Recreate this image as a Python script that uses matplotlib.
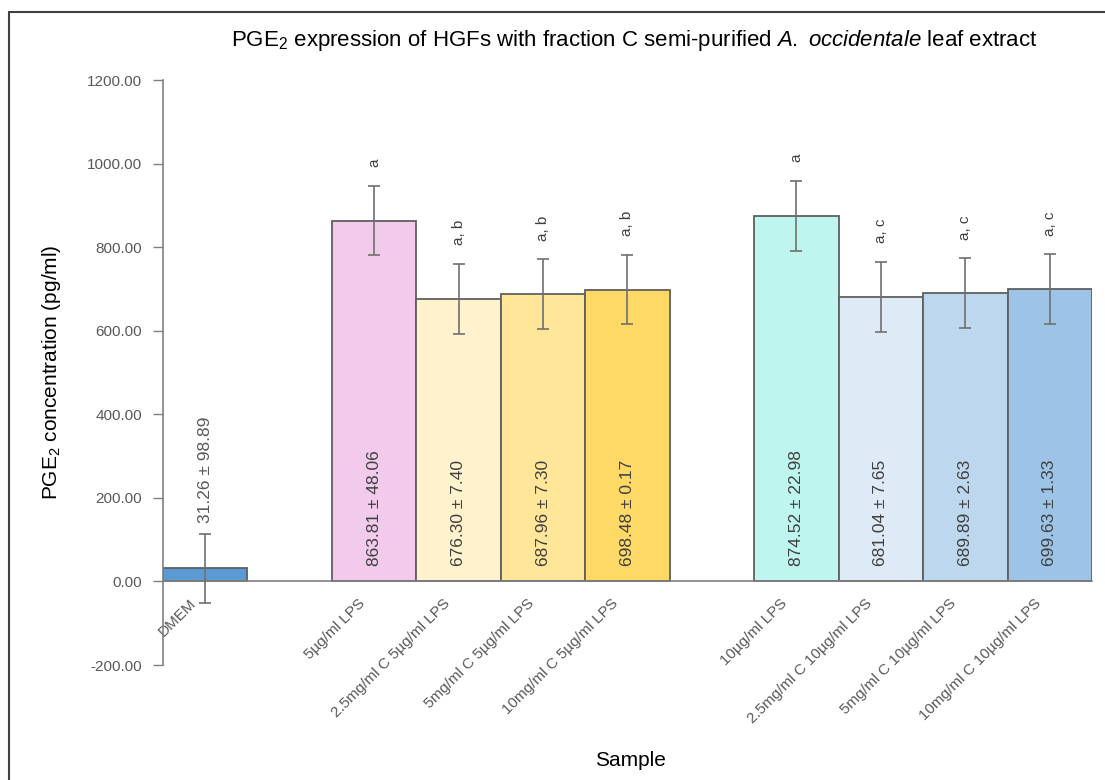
import numpy as np
import matplotlib
matplotlib.use("Agg")
import matplotlib.pyplot as plt
import matplotlib.transforms as mtransforms
from matplotlib.patches import Rectangle

# We keep the chart data here
samples = ["DMEM", "5µg/ml LPS", "2.5mg/ml C 5µg/ml LPS", "5mg/ml C 5µg/ml LPS",
           "10mg/ml C 5µg/ml LPS", "10µg/ml LPS", "2.5mg/ml C 10µg/ml LPS",
           "5mg/ml C 10µg/ml LPS", "10mg/ml C 10µg/ml LPS"]
means = [31.26, 863.81, 676.30, 687.96, 698.48, 874.52, 681.04, 689.89, 699.63]
sds = [98.89, 48.06, 7.40, 7.30, 0.17, 22.98, 7.65, 2.63, 1.33]
err_bars = [83, 83, 83, 83, 83, 84, 83, 83, 83]
letters = ["", "a", "a, b", "a, b", "a, b", "a", "a, c", "a, c", "a, c"]
colors = ["#5B9BD5", "#F2CAEC", "#FFF2CC", "#FFE699", "#FFD966",
          "#BFF5EF", "#DEEAF6", "#BDD7EE", "#9DC3E6"]

plt.rcParams["font.family"] = ["Liberation Sans", "DejaVu Sans"]
plt.rcParams["mathtext.fontset"] = "custom"
plt.rcParams["mathtext.rm"] = "Liberation Sans"
plt.rcParams["mathtext.it"] = "Liberation Sans:italic"

# We place the groups with an empty slot between them
gap = [0, 1, 1, 1, 1, 2, 2, 2, 2]
x = np.arange(len(samples)) + np.array(gap)

fig = plt.figure(figsize=(11.05, 7.8), dpi=100)
ax = fig.add_axes([0.1475, 0.1474, 0.8407, 0.75])

# We set the spines first because moving a spine resets the ticks
ax.spines["top"].set_visible(False)
ax.spines["right"].set_visible(False)
ax.spines["left"].set_color("#808080")
ax.spines["bottom"].set_color("#808080")
ax.spines["bottom"].set_position(("data", 0))
ax.spines["left"].set_linewidth(1.2)
ax.spines["bottom"].set_linewidth(1.2)

ax.bar(x, means, width=1.0, color=colors, edgecolor="#5f5f5f", linewidth=1.3, zorder=2)
ax.errorbar(x, means, yerr=err_bars, fmt="none", ecolor="#707070",
            elinewidth=1.2, capsize=4.5, capthick=1.2, zorder=3)

# We add value labels and significance letters
for i in range(len(samples)):
    label = f"{means[i]:.2f} ± {sds[i]:.2f}"
    if i == 0:
        ax.text(x[i], means[i] + err_bars[i] + 25, label, rotation=90, ha="center",
                va="bottom", fontsize=12.5, color="#595959", zorder=4)
    else:
        ax.text(x[i], 38, label, rotation=90, ha="center", va="bottom",
                fontsize=12.5, color="#404040", zorder=4)
    if letters[i]:
        ax.text(x[i], means[i] + err_bars[i] + 45, letters[i], rotation=90,
                ha="center", va="bottom", fontsize=11, color="#404040")

ax.set_xlim(-0.5, 10.5)
ax.set_ylim(-200, 1200)
ax.set_yticks(np.arange(-200, 1201, 200))
ax.yaxis.set_major_formatter(matplotlib.ticker.FormatStrFormatter("%.2f"))
ax.tick_params(axis="y", length=7, width=1, color="#808080", labelcolor="#595959",
               labelsize=11, pad=8)

ax.set_xticks(x)
ax.set_xticklabels(samples, rotation=45, ha="right", va="center", rotation_mode="anchor",
                   fontsize=11, color="#595959")
ax.tick_params(axis="x", length=0, pad=14)
shift = mtransforms.ScaledTranslation(-8 / 72, 0, fig.dpi_scale_trans)
for lbl in ax.get_xticklabels():
    lbl.set_transform(lbl.get_transform() + shift)

ax.set_ylabel(r"PGE$_\mathregular{2}$ concentration (pg/ml)", fontsize=15, labelpad=17)
fig.text(0.5705, 0.0255, "Sample", ha="center", va="center", fontsize=15)
fig.text(0.574, 0.948, r"PGE$_\mathregular{2}$ expression of HGFs with fraction C semi-purified "
         r"$\mathit{A.\ occidentale}$ leaf extract", ha="center", va="center", fontsize=16)

# We draw the outer frame of the chart area
fig.patches.append(Rectangle((9 / 1105, -0.1), 1.2, 1.1 - 12 / 780, fill=False,
                             edgecolor="#404040", linewidth=1.5,
                             transform=fig.transFigure, figure=fig))

fig.savefig("out.png", dpi=100)
